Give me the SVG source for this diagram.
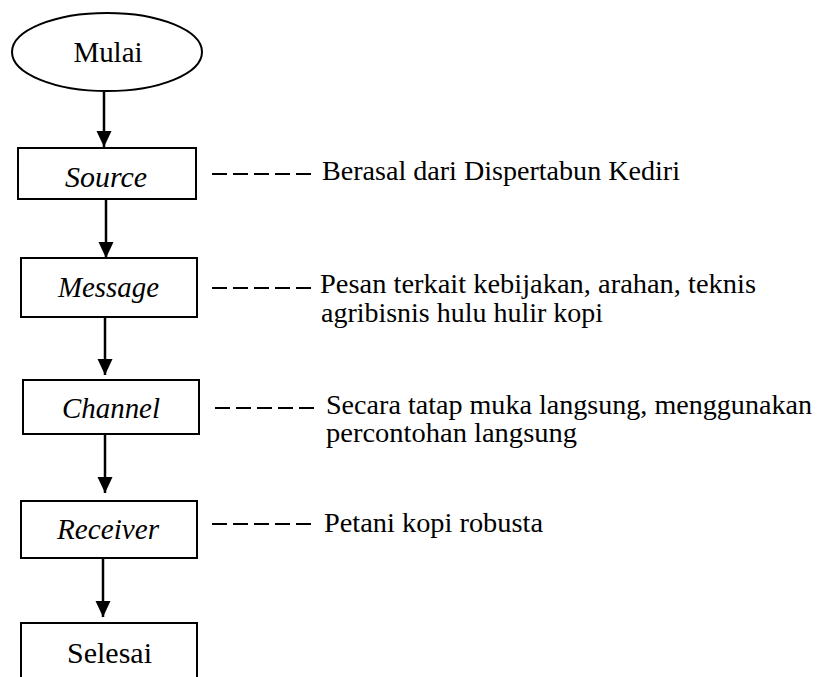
<svg xmlns="http://www.w3.org/2000/svg" width="827" height="677" viewBox="0 0 827 677">
<defs>
<style>
.box{fill:#fff;stroke:#000;stroke-width:2}
.lbl{font-family:"Liberation Serif",serif;font-size:29px;fill:#000;text-anchor:middle}
.it{font-style:italic}
.desc{font-family:"Liberation Serif",serif;font-size:28px;fill:#000}
.arr{stroke:#000;stroke-width:2.5;fill:none;marker-end:url(#ah)}
.dash{stroke:#000;stroke-width:2;stroke-dasharray:15 6;fill:none}
</style>
<marker id="ah" markerUnits="userSpaceOnUse" markerWidth="16" markerHeight="16" viewBox="0 0 16 16" refX="16" refY="8" orient="auto">
<path d="M0,0.5 L16,8 L0,15.5 Z" fill="#000"/>
</marker>
</defs>
<rect width="827" height="677" fill="#fff"/>
<g id="mulai">
<ellipse class="box" cx="107" cy="52" rx="95" ry="39"/>
<text class="lbl" x="108" y="62" textLength="69" lengthAdjust="spacingAndGlyphs">Mulai</text>
</g>
<g id="source">
<rect class="box" x="18" y="148" width="178" height="51"/>
<text class="lbl it" x="106" y="187" textLength="82" lengthAdjust="spacingAndGlyphs">Source</text>
</g>
<g id="message">
<rect class="box" x="21" y="258" width="176" height="59"/>
<text class="lbl it" x="108.500" y="297" textLength="101" lengthAdjust="spacingAndGlyphs">Message</text>
</g>
<g id="channel">
<rect class="box" x="23" y="380" width="176" height="54"/>
<text class="lbl it" x="111" y="418" textLength="98" lengthAdjust="spacingAndGlyphs">Channel</text>
</g>
<g id="receiver">
<rect class="box" x="21" y="501" width="176" height="57"/>
<text class="lbl it" x="108" y="539" textLength="102" lengthAdjust="spacingAndGlyphs">Receiver</text>
</g>
<g id="selesai">
<rect class="box" x="21" y="623" width="176" height="70"/>
<text class="lbl" x="109.500" y="663" textLength="85" lengthAdjust="spacingAndGlyphs">Selesai</text>
</g>
<g id="connectors">
<line class="arr" x1="104" y1="92" x2="104" y2="147"/>
<line class="arr" x1="106" y1="200" x2="106" y2="258"/>
<line class="arr" x1="105" y1="318" x2="105" y2="375"/>
<line class="arr" x1="105" y1="435" x2="105" y2="493"/>
<line class="arr" x1="103" y1="559" x2="103" y2="617"/>
<line class="dash" x1="212" y1="174" x2="311" y2="174"/>
<line class="dash" x1="212" y1="288" x2="311" y2="288"/>
<line class="dash" x1="215" y1="408" x2="314" y2="408"/>
<line class="dash" x1="212" y1="524" x2="311" y2="524"/>
</g>
<g id="notes">
<text class="desc" x="322" y="180" textLength="358" lengthAdjust="spacingAndGlyphs">Berasal dari Dispertabun Kediri</text>
<text class="desc" x="320" y="293" textLength="436" lengthAdjust="spacingAndGlyphs">Pesan terkait kebijakan, arahan, teknis</text>
<text class="desc" x="321" y="322" textLength="282" lengthAdjust="spacingAndGlyphs">agribisnis hulu hulir kopi</text>
<text class="desc" x="326" y="414" textLength="486" lengthAdjust="spacingAndGlyphs">Secara tatap muka langsung, menggunakan</text>
<text class="desc" x="326" y="442" textLength="251" lengthAdjust="spacingAndGlyphs">percontohan langsung</text>
<text class="desc" x="324" y="532" textLength="219" lengthAdjust="spacingAndGlyphs">Petani kopi robusta</text>
</g>
</svg>
